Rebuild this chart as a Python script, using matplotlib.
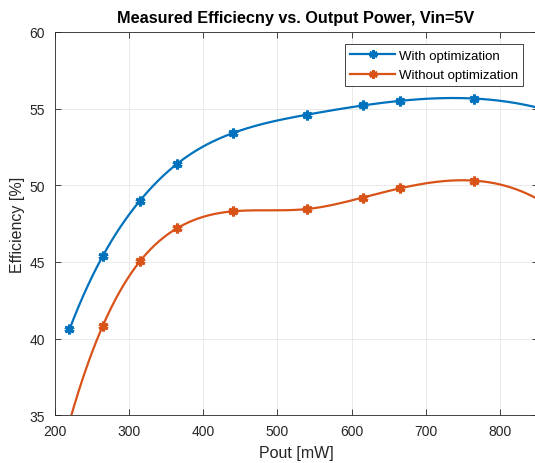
import numpy as np
import matplotlib
matplotlib.use("Agg")
import matplotlib.pyplot as plt

plt.rcParams["font.family"] = ["Liberation Sans", "DejaVu Sans"]

# measured points
pout_opt = [220, 265, 315, 365, 440, 540, 615, 665, 765]
eff_opt = [40.6, 45.4, 49.0, 51.4, 53.4, 54.6, 55.2, 55.5, 55.65]
pout_noopt = [265, 315, 365, 440, 540, 615, 665, 765]
eff_noopt = [40.85, 45.05, 47.2, 48.3, 48.45, 49.2, 49.8, 50.3]

BLUE = "#0072BD"
ORANGE = "#D95319"


def spline_notaknot(x, y, xq):
    # cubic spline with not-a-knot end conditions (same as MATLAB spline)
    x = np.asarray(x, float)
    y = np.asarray(y, float)
    n = len(x)
    h = np.diff(x)
    d = np.diff(y) / h
    A = np.zeros((n, n))
    r = np.zeros(n)
    for i in range(1, n - 1):
        A[i, i - 1] = h[i]
        A[i, i] = 2 * (h[i - 1] + h[i])
        A[i, i + 1] = h[i - 1]
        r[i] = 3 * (h[i] * d[i - 1] + h[i - 1] * d[i])
    A[0, 0] = h[1]
    A[0, 1] = h[0] + h[1]
    r[0] = ((h[0] + 2 * (h[0] + h[1])) * h[1] * d[0] + h[0] ** 2 * d[1]) / (h[0] + h[1])
    A[-1, -2] = h[-1] + h[-2]
    A[-1, -1] = h[-2]
    r[-1] = (h[-1] ** 2 * d[-2] + (2 * (h[-2] + h[-1]) + h[-1]) * h[-2] * d[-1]) / (h[-2] + h[-1])
    s = np.linalg.solve(A, r)
    xq = np.asarray(xq, float)
    k = np.clip(np.searchsorted(x, xq) - 1, 0, n - 2)
    t = xq - x[k]
    c2 = (3 * d[k] - 2 * s[k] - s[k + 1]) / h[k]
    c3 = (s[k] + s[k + 1] - 2 * d[k]) / h[k] ** 2
    return y[k] + s[k] * t + c2 * t ** 2 + c3 * t ** 3


fig = plt.figure(figsize=(5.35, 4.64), dpi=100)
ax = fig.add_axes([0.102, 0.1026, 0.9027, 0.8267])

# smooth curves share one sampling grid starting at the lowest measured power
xs = np.linspace(min(pout_opt), 850, 600)
for px, py, col, lab in [(pout_opt, eff_opt, BLUE, "With optimization"),
                         (pout_noopt, eff_noopt, ORANGE, "Without optimization")]:
    ax.plot(xs, spline_notaknot(px, py, xs), color=col, lw=1.6)
    ax.plot(px, py, ls="none", marker=(6, 2, 0), ms=7, mew=2.2, color=col)
    ax.plot([], [], color=col, lw=1.6, marker=(6, 2, 0), ms=6, mew=2, label=lab)

ax.set_xlim(200, 850)
ax.set_ylim(35, 60)
ax.set_xticks(range(200, 851, 100))
ax.set_yticks(range(35, 61, 5))
ax.grid(True, color="#e6e6e6", lw=0.6)
ax.set_axisbelow(True)
ax.tick_params(direction="in", top=True, right=True, length=4, width=0.6,
               labelsize=10, colors="#262626", labelcolor="#262626")
ax.tick_params(axis="y", pad=7)
ax.tick_params(axis="x", pad=6)
for sp in ax.spines.values():
    sp.set_color("#262626")
    sp.set_linewidth(0.6)

ax.set_xlabel("Pout [mW]", fontsize=11.5, color="#262626", labelpad=5)
ax.set_ylabel("Efficiency [%]", fontsize=11.5, color="#262626", labelpad=3)
ax.set_title("Measured Efficiecny vs. Output Power, Vin=5V", fontsize=11.7,
             fontweight="bold", pad=7)

leg = ax.legend(loc="upper right", bbox_to_anchor=(0.979, 0.978), fontsize=9.5,
                fancybox=False, edgecolor="#262626", framealpha=1,
                handlelength=3.4, borderpad=0.4, labelspacing=0.55,
                handletextpad=0.3, borderaxespad=0.3)
leg.get_frame().set_linewidth(0.6)

fig.savefig("out.png", dpi=100)
